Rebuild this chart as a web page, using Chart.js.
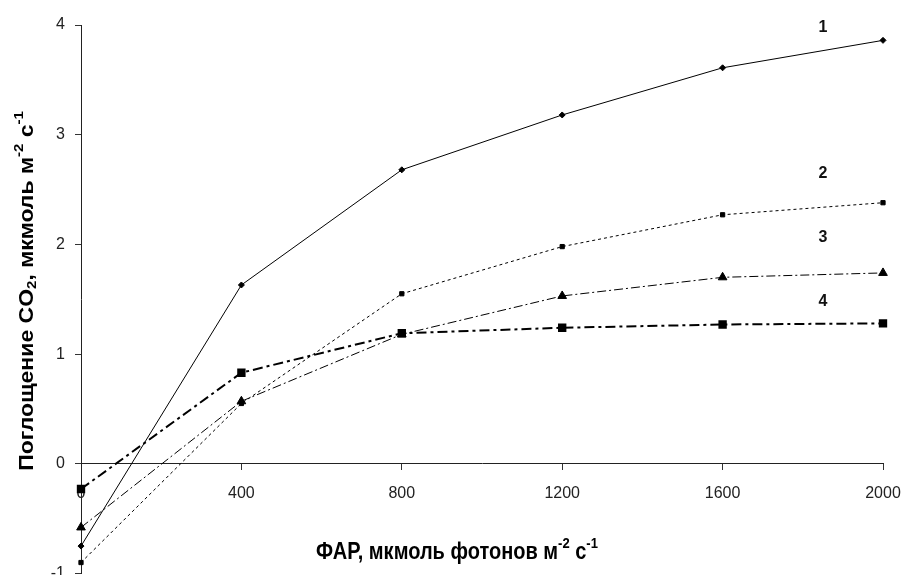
<!DOCTYPE html>
<html lang="ru">
<head>
  <meta charset="UTF-8">
  <title>Поглощение CO2</title>
  <script src="https://cdn.jsdelivr.net/npm/chart.js"></script>
  <style>
    html, body { margin: 0; padding: 0; background: #fff; overflow: hidden; }
    #chartContainer { width: 906px; height: 575px; overflow: hidden; }
  </style>
</head>
<body>
  <div id="chartContainer">
    <canvas id="myChart" width="906" height="580"></canvas>
  </div>

  <script>
    // ФАР (x) и поглощение CO2 для четырёх кривых
    const par = [0, 400, 800, 1200, 1600, 2000];
    const curve1 = [-0.75, 1.63, 2.68, 3.18, 3.61, 3.86];
    const curve2 = [-0.90, 0.55, 1.55, 1.98, 2.27, 2.38];
    const curve3 = [-0.58, 0.57, 1.18, 1.53, 1.70, 1.74];
    const curve4 = [-0.23, 0.83, 1.19, 1.24, 1.27, 1.28];
    const curveNames = ['1', '2', '3', '4'];
    const xTicks = [0, 400, 800, 1200, 1600, 2000];
    const yTicks = [-1, 0, 1, 2, 3, 4];

    const toPoints = vals => par.map((x, i) => ({ x: x, y: vals[i] }));

    const FONT = "'Liberation Sans', Arial, sans-serif";

    // подписи кривых (1–4) и заголовки осей с индексами
    const labelsPlugin = {
      id: 'curveLabels',
      afterDraw(chart) {
        const ctx = chart.ctx;
        const xs = chart.scales.x, ys = chart.scales.y;
        const spots = [[1850, 3.98], [1850, 2.65], [1850, 2.06], [1850, 1.48]];
        ctx.save();
        ctx.fillStyle = '#111';
        ctx.font = 'bold 16px ' + FONT;
        ctx.textAlign = 'center';
        ctx.textBaseline = 'middle';
        curveNames.forEach((n, i) => {
          ctx.fillText(n, xs.getPixelForValue(spots[i][0]), ys.getPixelForValue(spots[i][1]));
        });
        ctx.restore();

        drawRich(ctx, [['ФАР, мкмоль фотонов м', 0], ['-2', 1], [' с', 0], ['-1', 1]], 457, 553, false);
        drawRich(ctx, [['Поглощение CO', 0], ['2', -1], [', мкмоль м', 0], ['-2', 1], [' с', 0], ['-1', 1]], 27, 291, true);
      }
    };

    // текст с верхними/нижними индексами; картинка слегка растянута по вертикали
    function drawRich(ctx, segs, x, y, rotate) {
      const big = 'bold 20px ' + FONT, small = 'bold 13px ' + FONT;
      ctx.save();
      ctx.translate(x, y);
      if (rotate) { ctx.rotate(-Math.PI / 2); ctx.scale(1.15, 1); }
      else ctx.scale(1, 1.15);
      ctx.fillStyle = '#000';
      ctx.textAlign = 'left';
      ctx.textBaseline = 'middle';
      let total = 0;
      segs.forEach(s => { ctx.font = s[1] ? small : big; total += ctx.measureText(s[0]).width; });
      let cx = -total / 2;
      segs.forEach(s => {
        ctx.font = s[1] ? small : big;
        const dy = s[1] === 1 ? -8 : (s[1] === -1 ? 5 : 0);
        ctx.fillText(s[0], cx, dy);
        cx += ctx.measureText(s[0]).width;
      });
      ctx.restore();
    }

    const ctx = document.getElementById('myChart').getContext('2d');
    const myChart = new Chart(ctx, {
      type: 'line',
      data: {
        datasets: [
          {
            label: '1', data: toPoints(curve1),
            borderColor: '#000', borderWidth: 1,
            pointStyle: 'rectRot', pointRadius: 3, pointBackgroundColor: '#000', pointBorderColor: '#000'
          },
          {
            label: '2', data: toPoints(curve2),
            borderColor: '#000', borderWidth: 1, borderDash: [3, 3],
            pointStyle: 'rect', pointRadius: 3, pointBackgroundColor: '#000', pointBorderColor: '#000'
          },
          {
            label: '3', data: toPoints(curve3),
            borderColor: '#000', borderWidth: 1, borderDash: [9, 3, 2, 3],
            pointStyle: 'triangle', pointRadius: 5, pointBackgroundColor: '#000', pointBorderColor: '#000'
          },
          {
            label: '4', data: toPoints(curve4),
            borderColor: '#000', borderWidth: 2, borderDash: [10, 4, 3, 4],
            pointStyle: 'rect', pointRadius: 4.5, pointBackgroundColor: '#000', pointBorderColor: '#000'
          }
        ].map(d => Object.assign(d, { fill: false, tension: 0, clip: false }))
      },
      options: {
        responsive: false,
        maintainAspectRatio: false,
        animation: false,
        devicePixelRatio: 1,
        layout: { padding: { left: 0, right: 23, top: 25, bottom: 3 } },
        plugins: { legend: { display: false }, tooltip: { enabled: false } },
        scales: {
          x: {
            type: 'linear',
            position: { y: 0 },
            min: 0, max: 2000,
            afterBuildTicks: s => { s.ticks = xTicks.map(v => ({ value: v })); },
            afterFit: s => { s.paddingLeft = 0; s.paddingRight = 0; },
            ticks: { color: '#222', font: { family: FONT, size: 16 }, padding: 14, maxRotation: 0, minRotation: 0,
                     callback: v => String(v) },
            grid: { drawOnChartArea: false, drawTicks: true, tickLength: 6, color: '#333' },
            border: { display: true, color: '#222', width: 1 }
          },
          y: {
            type: 'linear',
            min: -1, max: 4,
            afterBuildTicks: s => { s.ticks = yTicks.map(v => ({ value: v })); },
            afterFit: s => { s.width = 81; s.paddingTop = 0; s.paddingBottom = 0; },
            ticks: { color: '#222', font: { family: FONT, size: 16 }, padding: 10 },
            grid: { drawOnChartArea: false, drawTicks: true, tickLength: 6, color: '#333' },
            border: { display: true, color: '#222', width: 1 }
          }
        }
      },
      plugins: [labelsPlugin]
    });
  </script>
</body>
</html>
